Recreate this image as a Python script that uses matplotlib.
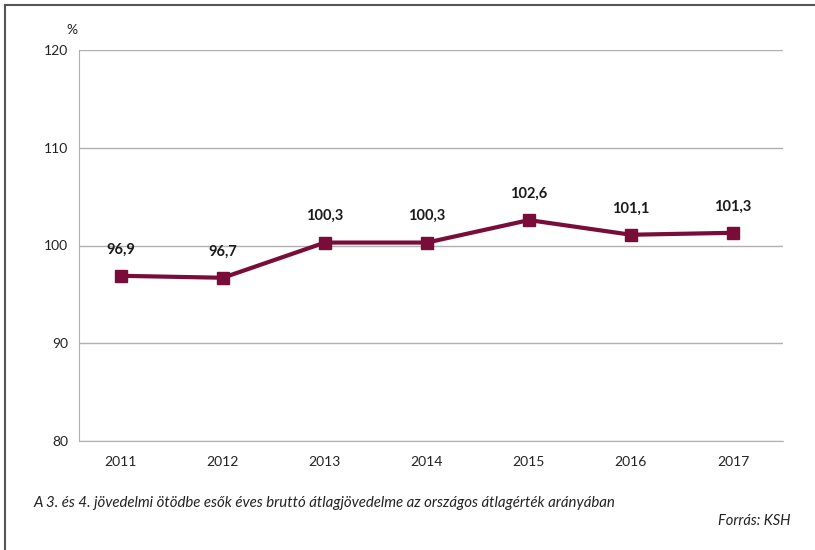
import matplotlib.pyplot as plt
from matplotlib.lines import Line2D

years = ["2011", "2012", "2013", "2014", "2015", "2016", "2017"]
values = [96.9, 96.7, 100.3, 100.3, 102.6, 101.1, 101.3]
value_labels = ["96,9", "96,7", "100,3", "100,3", "102,6", "101,1", "101,3"]
y_ticks = [80, 90, 100, 110, 120]

plt.rcParams["font.family"] = ["Lato", "DejaVu Sans"]

fig = plt.figure(figsize=(8.15, 5.5), dpi=100)
ax = fig.add_axes([79 / 815, 1 - 441 / 550, (783 - 79) / 815, (441 - 50) / 550])

x = list(range(len(years)))
color = "#7a0c3a"
ax.plot(x, values, color=color, lw=3, marker="s", ms=8, zorder=3)

for xi, v, lab in zip(x, values, value_labels):
    ax.annotate(lab, (xi, v), xytext=(0, 14), textcoords="offset points",
                ha="center", va="bottom", fontsize=10.5, fontweight="bold", color="#1a1a1a")

ax.set_ylim(80, 120)
ax.set_xlim(-0.41, 6.49)
ax.set_yticks(y_ticks)
ax.set_xticks(x)
ax.set_xticklabels(years)
ax.grid(axis="y", color="#b0b0b0", lw=1)
ax.set_axisbelow(True)
for s in ["top", "right"]:
    ax.spines[s].set_visible(False)
ax.spines["left"].set_color("#b0b0b0")
ax.spines["bottom"].set_color("#b0b0b0")
ax.tick_params(length=0, labelsize=10, colors="#222222", pad=8)
ax.tick_params(axis="x", pad=11)

fig.text(72 / 815, 1 - 30 / 550, "%", ha="center", va="center", fontsize=10, color="#222222")
fig.text(33 / 815, 1 - 503 / 550,
         "A 3. és 4. jövedelmi ötödbe esők éves bruttó átlagjövedelme az országos átlagérték arányában",
         ha="left", va="center", fontsize=10.8, style="italic", color="#222222")
fig.text(790 / 815, 1 - 521 / 550, "Forrás: KSH", ha="right", va="center",
         fontsize=10.5, style="italic", color="#222222")

# page frame (left and top edges)
fig.add_artist(Line2D([5 / 815, 5 / 815], [0, 1 - 5 / 550], color="#555555", lw=1.5))
fig.add_artist(Line2D([5 / 815, 1], [1 - 5 / 550, 1 - 5 / 550], color="#555555", lw=1.5))

fig.savefig("out.png", dpi=100)
